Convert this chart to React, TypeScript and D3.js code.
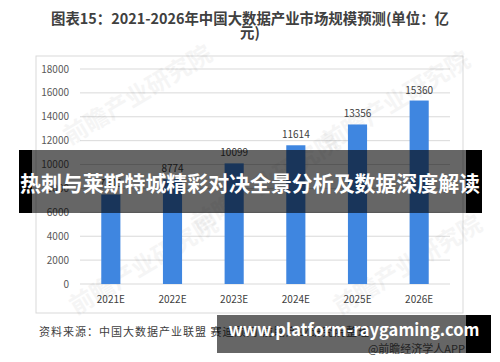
import React from 'react'
import * as d3 from 'd3'

const years = ['2021E', '2022E', '2023E', '2024E', '2025E', '2026E']
const values = [7500, 8774, 10099, 11614, 13356, 15360]
const yTicks = [0, 2000, 4000, 6000, 8000, 10000, 12000, 14000, 16000, 18000]
const titleLines = ['图表15：2021-2026年中国大数据产业市场规模预测(单位：亿', '元)']
const sourceText = '资料来源：中国大数据产业联盟 赛迪顾问 前瞻产业研究院整理'
const brandText = '@前瞻经济学人APP'
const bannerText = '热刺与莱斯特城精彩对决全景分析及数据深度解读'
const urlText = 'www.platform-raygaming.com'

const font = '"Noto Sans CJK SC", "Noto Sans", sans-serif'

export default function App() {
  const x = d3.scaleBand().domain(years).range([80, 450])
  const y = d3.scaleLinear().domain([0, 18000]).range([284, 69])
  const barW = x.bandwidth() * 0.31

  // faint diagonal watermarks
  const marks = [
    { cx: 142, cy: 102 },
    { cx: 400, cy: 108 },
    { cx: 148, cy: 272 },
    { cx: 412, cy: 272 },
    { cx: 270, cy: 190 },
  ]

  return (
    <svg width={500} height={362} style={{ position: 'absolute', left: 0, top: 0 }} fontFamily={font}>
      <rect width={500} height={362} fill="#fff" />
      {titleLines.map((t, i) => (
        <text key={i} x={250} y={24 + i * 14} textAnchor="middle" fontSize={14.4} fontWeight="bold" fill="#404040">
          {t}
        </text>
      ))}

      <rect x={36} y={56} width={427} height={257} fill="none" stroke="#d9d9d9" />

      {yTicks.map(t => (
        <g key={t}>
          <line x1={80} x2={450} y1={y(t)} y2={y(t)} stroke="#d9d9d9" strokeWidth={1} />
          <text x={69} y={y(t) + 3.5} textAnchor="end" fontSize={10} fill="#595959">{t}</text>
        </g>
      ))}

      {marks.map((m, i) => (
        <text key={'w' + i} x={m.cx} y={m.cy} textAnchor="middle" fontSize={24} fontWeight="bold"
          fill="#000" opacity={0.035} transform={`rotate(-31 ${m.cx} ${m.cy})`}>
          前瞻产业研究院
        </text>
      ))}

      {years.map((yr, i) => {
        const cx = (x(yr) as number) + x.bandwidth() / 2
        return (
          <g key={yr}>
            <rect x={cx - barW / 2} y={y(values[i])} width={barW} height={y(0) - y(values[i])} fill="#3f86e0" />
            <text x={cx} y={y(values[i]) - 7} textAnchor="middle" fontSize={10} fill="#404040">{values[i]}</text>
            <text x={cx} y={303} textAnchor="middle" fontSize={10} fill="#404040">{yr}</text>
          </g>
        )
      })}

      <text x={39} y={336} fontSize={11} letterSpacing={1} fill="#404040">{sourceText}</text>
      <text x={465} y={353} textAnchor="end" fontSize={11} fill="#595959">{brandText}</text>

      {/* overlay banners */}
      <rect x={19} y={150} width={13} height={63} fill="#000" />
      <rect x={466} y={150} width={16} height={63} fill="#000" />
      <rect x={32} y={150} width={434} height={63} fill="#000" opacity={0.6} />
      <text x={250} y={191} textAnchor="middle" fontSize={21} fontWeight="bold" fill="#fff"
        textLength={460} lengthAdjust="spacingAndGlyphs">{bannerText}</text>

      <rect x={466} y={315} width={25} height={38} fill="#000" />
      <rect x={217} y={315} width={249} height={38} fill="#000" opacity={0.6} />
      <text x={354} y={336} textAnchor="middle" fontSize={17} fontWeight="bold" fill="#fff"
        textLength={251} lengthAdjust="spacingAndGlyphs">{urlText}</text>
    </svg>
  )
}
